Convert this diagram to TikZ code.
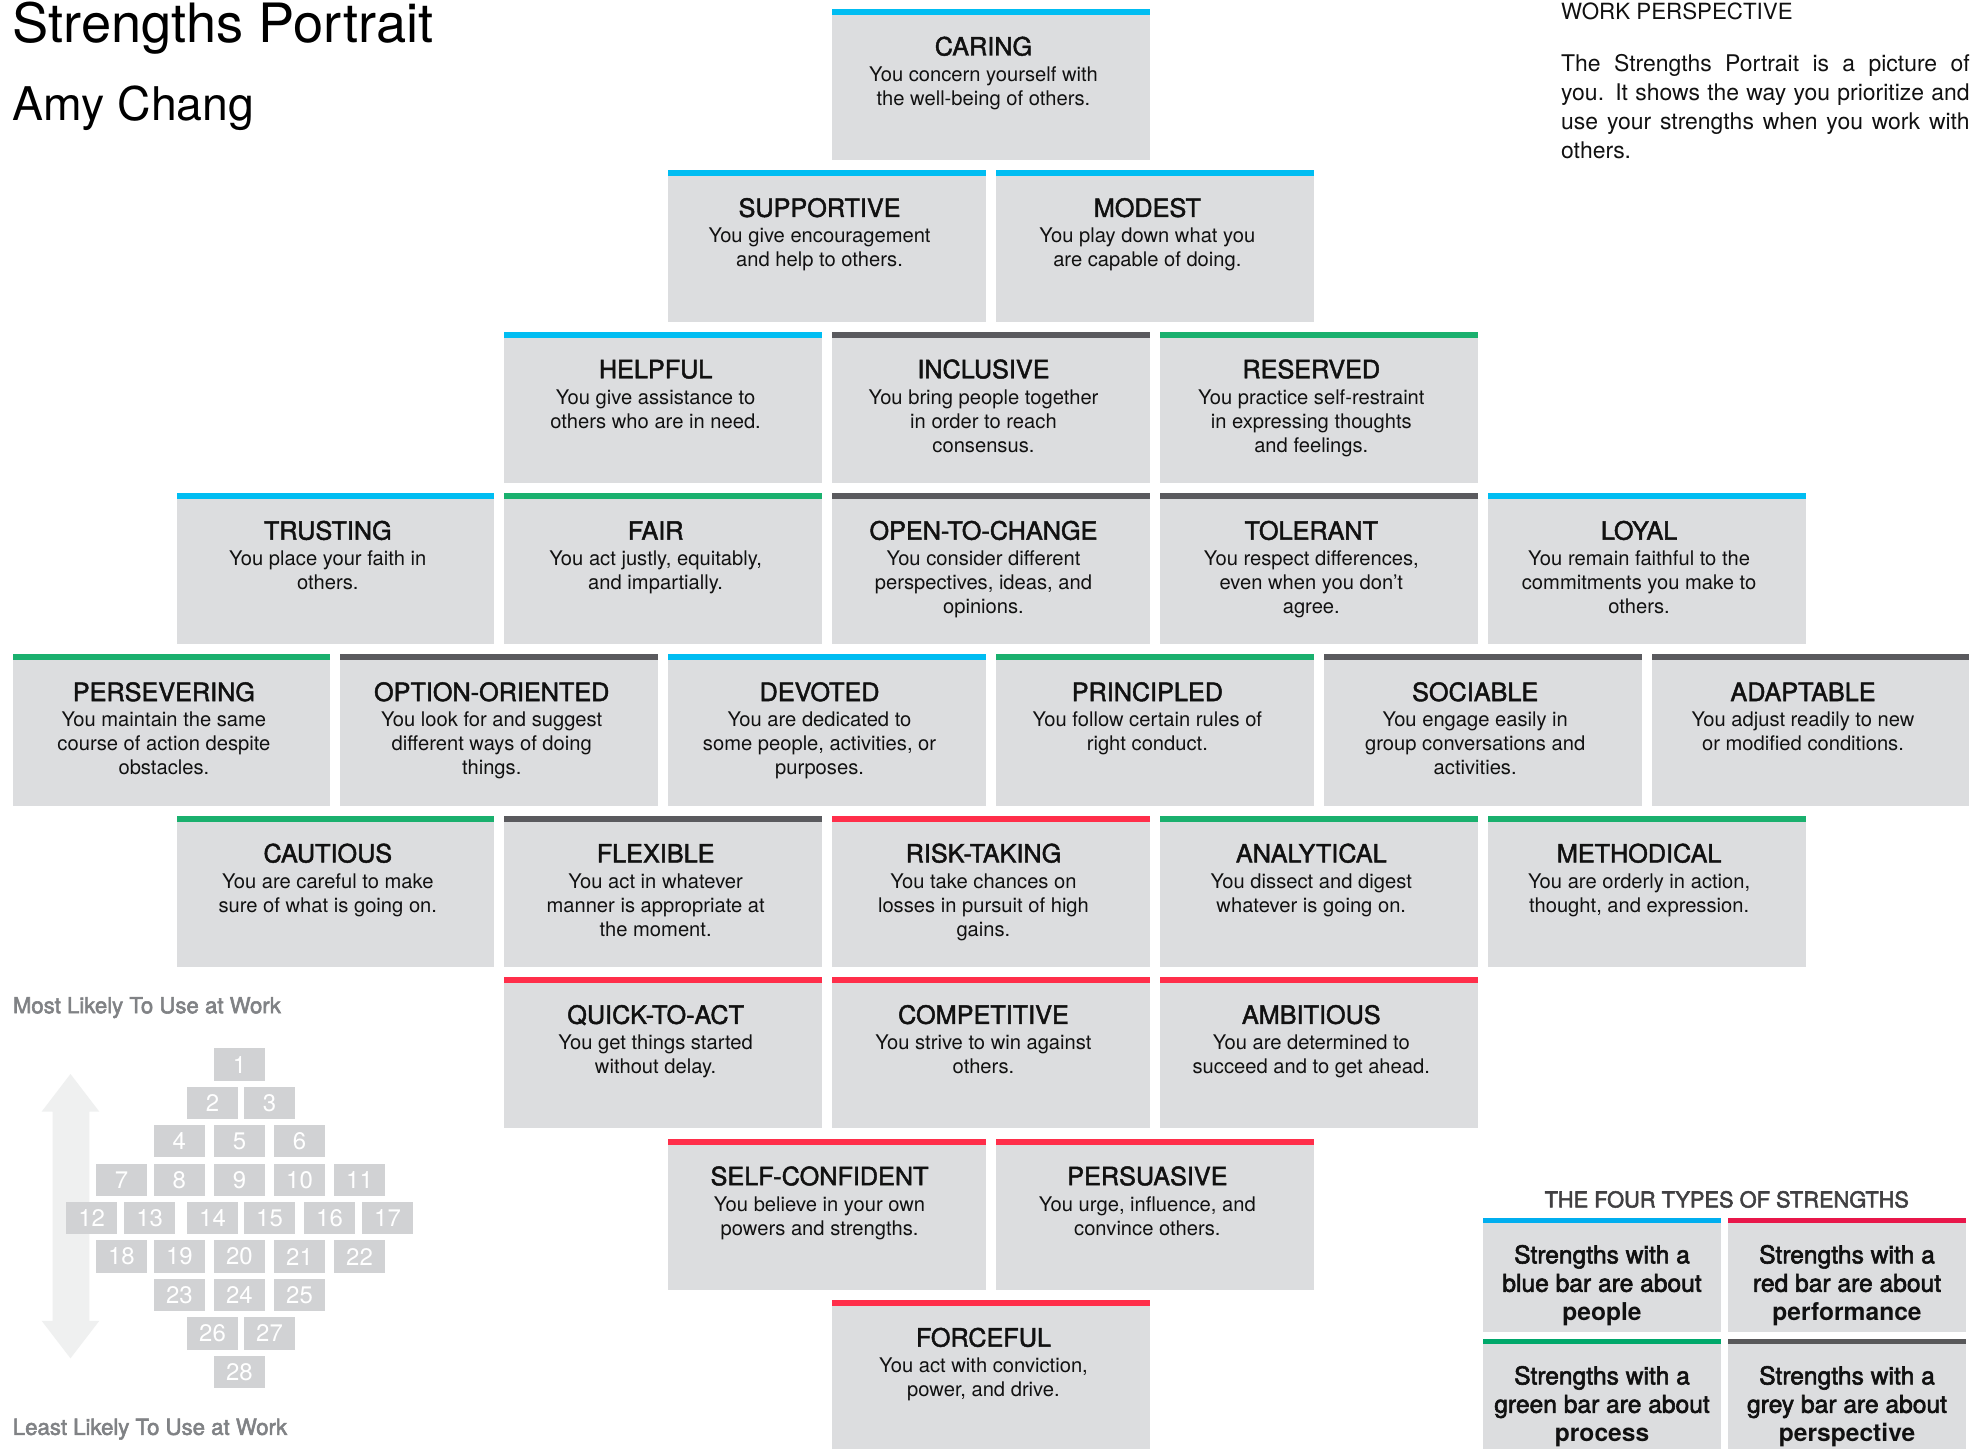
\documentclass[tikz,border=0pt]{standalone}
\usepackage{fontspec}
\setmainfont{TeX Gyre Heros}
\newfontfamily\medfont[FakeBold=1.8]{TeX Gyre Heros}
\newfontfamily\semifont[FakeBold=2.4]{TeX Gyre Heros}
\newfontfamily\lightfont{TeX Gyre Heros}
\definecolor{boxgray}{HTML}{DCDDDF}
\definecolor{minigray}{HTML}{D1D2D4}
\definecolor{arrowgray}{HTML}{EFF0F0}
\definecolor{bblue}{HTML}{00BDF2}
\definecolor{bgreen}{HTML}{1AB06E}
\definecolor{bred}{HTML}{FF2E4A}
\definecolor{bgrey}{HTML}{5A5A5E}
\definecolor{lblue}{HTML}{00AEEF}
\definecolor{lgreen}{HTML}{00A86B}
\definecolor{lred}{HTML}{E8174A}
\definecolor{lgrey}{HTML}{58585A}
\definecolor{inkblack}{HTML}{111111}
\definecolor{softgray}{HTML}{808285}
\definecolor{headgray}{HTML}{414042}
\tikzset{
  boxbg/.style={fill=boxgray, anchor=north west, minimum width=252pt, minimum height=120pt, inner sep=0pt, outer sep=0pt},
  ttl/.style={anchor=base, inner sep=0pt, font=\medfont\fontsize{20}{24}\selectfont, text=inkblack},
  dsc/.style={anchor=base, inner sep=0pt, font=\fontsize{16}{19}\selectfont, text=inkblack},
  minibox/.style={fill=minigray, anchor=north west, minimum width=40.5pt, minimum height=25.6pt, inner sep=0pt, outer sep=0pt, text=white, font=\lightfont\fontsize{19}{22}\selectfont},
  legbox/.style={fill=boxgray, anchor=north west, minimum width=188.2pt, minimum height=89.9pt, inner sep=0pt, outer sep=0pt},
  legtxt/.style={anchor=base, inner sep=0pt, font=\semifont\fontsize{19.5}{23}\selectfont, text=inkblack},
  legbold/.style={anchor=base, inner sep=0pt, font=\bfseries\fontsize{19.5}{23}\selectfont, text=inkblack},
  side/.style={anchor=base west, inner sep=0pt, font=\semifont\fontsize{17.6}{20}\selectfont, text=softgray}
}
\newcommand\strbox[8]{%
  \node[boxbg] (#4) at (#1,#2) {};
  \fill[#3] (#4.north west) rectangle ([yshift=-4.8pt]#4.north east);
  \node[ttl] (#4-t) at ([xshift=120pt,yshift=-37pt]#4.north west) {#5};
  \node[dsc] (#4-a) at ([xshift=120pt,yshift=-57.5pt]#4.north west) {#6};
  \node[dsc] (#4-b) at ([xshift=120pt,yshift=-76.5pt]#4.north west) {#7};
  \if\relax\detokenize{#8}\relax\else
  \node[dsc] (#4-c) at ([xshift=120pt,yshift=-95.5pt]#4.north west) {#8};
  \fi
}
\newcommand\minib[3]{\node[minibox] (m#3) at (#1,#2) {#3};}
\newcommand\legb[7]{%
  \node[legbox] (#3) at (#1,#2) {};
  \fill[#4] (#3.north west) rectangle ([yshift=-3.4pt]#3.north east);
  \node[legtxt] (#3-a) at ([yshift=-35.7pt]#3.north) {#5};
  \node[legtxt] (#3-b) at ([yshift=-58.2pt]#3.north) {#6};
  \node[legbold] (#3-c) at ([yshift=-81.2pt]#3.north) {#7};
}
\begin{document}
\begin{tikzpicture}[x=1pt,y=-1pt]
\clip (0,0) rectangle (1568,1149);
\fill[white] (0,0) rectangle (1568,1149);

% header
\node[anchor=base west, inner sep=0pt, font=\lightfont\fontsize{43}{50}\selectfont] (title) at (10,33.8) {Strengths Portrait};
\node[anchor=base west, inner sep=0pt, font=\lightfont\fontsize{36.8}{42}\selectfont] (name) at (10,95.7) {Amy Chang};
\node[anchor=base west, inner sep=0pt, font=\fontsize{17.7}{20}\selectfont, text=inkblack] (wp) at (1238,15.5) {WORK PERSPECTIVE};
\node[anchor=base west, inner sep=0pt, text width=324pt, align=justify, font=\fontsize{18.2}{23}\selectfont, text=inkblack] (para) at (1238,56.6)
 {The Strengths Portrait is a picture of\linebreak you. It shows the way you prioritize and\linebreak use your strengths when you work with\linebreak others.};

% row 1
\strbox{660}{7}{bblue}{caring}{CARING}{You concern yourself with}{the well-being of others.}{}
% row 2
\strbox{530}{135}{bblue}{supportive}{SUPPORTIVE}{You give encouragement}{and help to others.}{}
\strbox{790}{135}{bblue}{modest}{MODEST}{You play down what you}{are capable of doing.}{}
% row 3
\strbox{400}{263}{bblue}{helpful}{HELPFUL}{You give assistance to}{others who are in need.}{}
\strbox{660}{263}{bgrey}{inclusive}{INCLUSIVE}{You bring people together}{in order to reach}{consensus.}
\strbox{920}{263}{bgreen}{reserved}{RESERVED}{You practice self-restraint}{in expressing thoughts}{and feelings.}
% row 4
\strbox{140}{391}{bblue}{trusting}{TRUSTING}{You place your faith in}{others.}{}
\strbox{400}{391}{bgreen}{fair}{FAIR}{You act justly, equitably,}{and impartially.}{}
\strbox{660}{391}{bgrey}{open}{OPEN-TO-CHANGE}{You consider different}{perspectives, ideas, and}{opinions.}
\strbox{920}{391}{bgrey}{tolerant}{TOLERANT}{You respect differences,}{even when you don’t}{agree.}
\strbox{1180}{391}{bblue}{loyal}{LOYAL}{You remain faithful to the}{commitments you make to}{others.}
% row 5
\strbox{10}{519}{bgreen}{persevering}{PERSEVERING}{You maintain the same}{course of action despite}{obstacles.}
\strbox{270}{519}{bgrey}{option}{OPTION-ORIENTED}{You look for and suggest}{different ways of doing}{things.}
\strbox{530}{519}{bblue}{devoted}{DEVOTED}{You are dedicated to}{some people, activities, or}{purposes.}
\strbox{790}{519}{bgreen}{principled}{PRINCIPLED}{You follow certain rules of}{right conduct.}{}
\strbox{1050}{519}{bgrey}{sociable}{SOCIABLE}{You engage easily in}{group conversations and}{activities.}
\strbox{1310}{519}{bgrey}{adaptable}{ADAPTABLE}{You adjust readily to new}{or modified conditions.}{}
% row 6
\strbox{140}{647}{bgreen}{cautious}{CAUTIOUS}{You are careful to make}{sure of what is going on.}{}
\strbox{400}{647}{bgrey}{flexible}{FLEXIBLE}{You act in whatever}{manner is appropriate at}{the moment.}
\strbox{660}{647}{bred}{risk}{RISK-TAKING}{You take chances on}{losses in pursuit of high}{gains.}
\strbox{920}{647}{bgreen}{analytical}{ANALYTICAL}{You dissect and digest}{whatever is going on.}{}
\strbox{1180}{647}{bgreen}{methodical}{METHODICAL}{You are orderly in action,}{thought, and expression.}{}
% row 7
\strbox{400}{775}{bred}{quick}{QUICK-TO-ACT}{You get things started}{without delay.}{}
\strbox{660}{775}{bred}{competitive}{COMPETITIVE}{You strive to win against}{others.}{}
\strbox{920}{775}{bred}{ambitious}{AMBITIOUS}{You are determined to}{succeed and to get ahead.}{}
% row 8
\strbox{530}{903}{bred}{selfconf}{SELF-CONFIDENT}{You believe in your own}{powers and strengths.}{}
\strbox{790}{903}{bred}{persuasive}{PERSUASIVE}{You urge, influence, and}{convince others.}{}
% row 9
\strbox{660}{1031}{bred}{forceful}{FORCEFUL}{You act with conviction,}{power, and drive.}{}

% left legend
\node[side] (most) at (10,803.6) {Most Likely To Use at Work};
\node[side] (least) at (10,1138) {Least Likely To Use at Work};
\fill[arrowgray] (55.9,851.8) -- (78.8,881.7) -- (70.9,881.7) -- (70.9,1047.5) -- (78.8,1047.5)
  -- (55.9,1077.3) -- (33,1047.5) -- (41.8,1047.5) -- (41.8,881.7) -- (33,881.7) -- cycle;
\minib{169.7}{831.5}{1}
\minib{148.3}{861.9}{2}
\minib{193.5}{861.9}{3}
\minib{122}{892.4}{4}
\minib{169.7}{892.4}{5}
\minib{217.3}{892.4}{6}
\minib{76.1}{922.9}{7}
\minib{122}{922.9}{8}
\minib{169.7}{922.9}{9}
\minib{217.3}{922.9}{10}
\minib{264.9}{922.9}{11}
\minib{52.4}{953.3}{12}
\minib{98.4}{953.3}{13}
\minib{148.3}{953.3}{14}
\minib{193.5}{953.3}{15}
\minib{241.1}{953.3}{16}
\minib{287.1}{953.3}{17}
\minib{76.1}{983.8}{18}
\minib{122}{983.8}{19}
\minib{169.7}{983.8}{20}
\minib{217.3}{983.8}{21}
\minib{264.9}{983.8}{22}
\minib{122}{1014.3}{23}
\minib{169.7}{1014.3}{24}
\minib{217.3}{1014.3}{25}
\minib{148.3}{1044.7}{26}
\minib{193.5}{1044.7}{27}
\minib{169.7}{1075.2}{28}

% four types legend
\node[anchor=base, inner sep=0pt, font=\semifont\fontsize{17.3}{20}\selectfont, text=headgray] (fourtypes) at (1369.5,957.6) {THE FOUR TYPES OF STRENGTHS};
\legb{1176.5}{966.3}{legblue}{lblue}{Strengths with a}{blue bar are about}{people}
\legb{1370.8}{966.3}{legred}{lred}{Strengths with a}{red bar are about}{performance}
\legb{1176.5}{1062.3}{leggreen}{lgreen}{Strengths with a}{green bar are about}{process}
\legb{1370.8}{1062.3}{leggrey}{lgrey}{Strengths with a}{grey bar are about}{perspective}
\end{tikzpicture}
\end{document}
